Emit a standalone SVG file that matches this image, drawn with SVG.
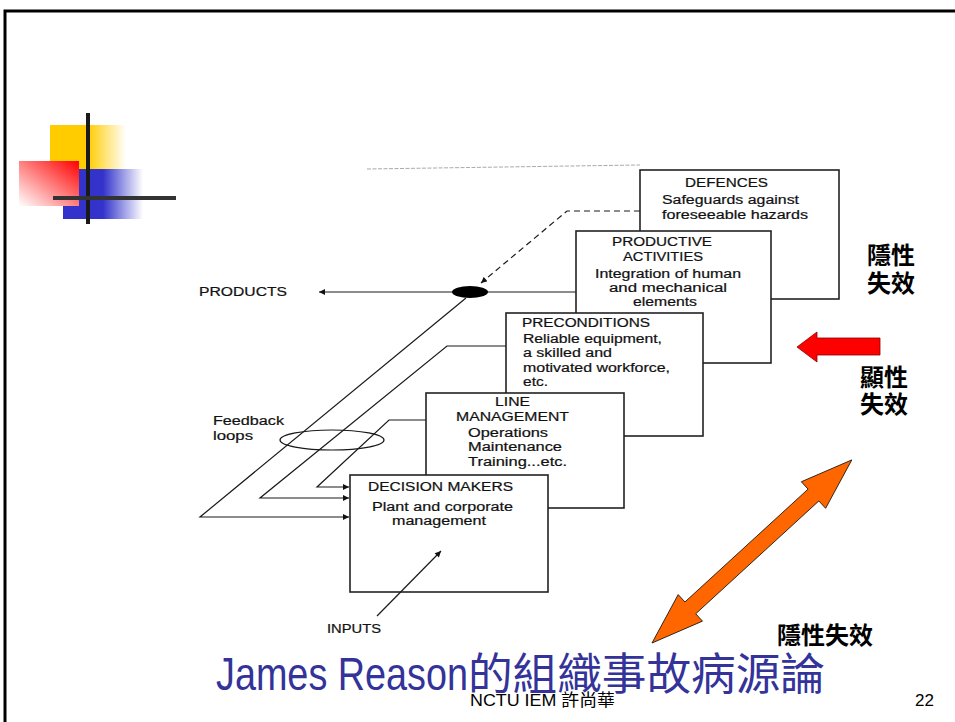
<svg xmlns="http://www.w3.org/2000/svg" width="955" height="722" viewBox="0 0 955 722">
  <defs>
    <linearGradient id="gYellow" x1="0" y1="0" x2="1" y2="0">
      <stop offset="0.5" stop-color="#FFCC00"/>
      <stop offset="1" stop-color="#FFCC00" stop-opacity="0"/>
    </linearGradient>
    <linearGradient id="gBlue" x1="0" y1="0" x2="1" y2="0">
      <stop offset="0.5" stop-color="#3333CC"/>
      <stop offset="1" stop-color="#3333CC" stop-opacity="0"/>
    </linearGradient>
    <linearGradient id="gRed" x1="1" y1="0" x2="0" y2="1">
      <stop offset="0" stop-color="#FF0000"/>
      <stop offset="1" stop-color="#FFFFFF"/>
    </linearGradient>
    <marker id="ah" viewBox="0 0 10 10" refX="10" refY="5" markerWidth="7" markerHeight="6" markerUnits="userSpaceOnUse" orient="auto">
      <path d="M0,0 L10,5 L0,10 Z" fill="#111"/>
    </marker>
    <style>
      .box { fill: #fff; stroke: #222; stroke-width: 1.6; }
      .ln { fill: none; stroke: #1a1a1a; stroke-width: 1.2; }
      .lbl { font-family: "Liberation Sans", Arial, sans-serif; font-size: 12px; fill: #111; stroke: #111; stroke-width: 0.2; }
      .cjk { font-family: "Noto Sans CJK TC", "Noto Sans CJK SC", sans-serif; font-size: 24px; font-weight: bold; fill: #000; }
    </style>
  </defs>

  <rect width="955" height="722" fill="#fff"/>
  <!-- slide frame -->
  <path d="M5,722 L5,11 L955,11" fill="none" stroke="#000" stroke-width="3"/>

  <!-- corner decoration -->
  <g id="decor">
    <rect x="50" y="125" width="76" height="44" fill="url(#gYellow)"/>
    <rect x="63" y="169" width="80" height="50" fill="url(#gBlue)"/>
    <rect x="19" y="161" width="60" height="45" fill="url(#gRed)"/>
    <rect x="86" y="113" width="4" height="111" fill="#1a1a1a"/>
    <rect x="53" y="196" width="123" height="4" fill="#333"/>
  </g>

  <!-- faint ruled line -->
  <path d="M367,169 L640,165" stroke="#aaa" stroke-width="1" stroke-dasharray="4,1.5" fill="none"/>

  <!-- connectors -->
  <g id="connectors">
    <path class="ln" d="M576,292 L319,292" marker-end="url(#ah)"/>
    <path class="ln" d="M640,211 L567,211 L481,283" stroke-dasharray="6,4" marker-end="url(#ah)"/>
    <path class="ln" d="M466,298 L200,517 L349,517" marker-end="url(#ah)"/>
    <path class="ln" d="M506,346 L447,346 L260,498 L349,498" marker-end="url(#ah)"/>
    <path class="ln" d="M426,420 L389,420 L317,487 L349,487" marker-end="url(#ah)"/>
    <ellipse cx="470" cy="292" rx="18" ry="6" fill="#000"/>
    <ellipse cx="332" cy="440" rx="52" ry="10" class="ln"/>
  </g>

  <!-- stacked layers, back to front -->
  <g id="defences">
    <rect class="box" x="640" y="170" width="199" height="129"/>
    <text class="lbl" x="685" y="187" textLength="83" lengthAdjust="spacingAndGlyphs">DEFENCES</text>
    <text class="lbl" x="662" y="204" textLength="137" lengthAdjust="spacingAndGlyphs">Safeguards against</text>
    <text class="lbl" x="662" y="219" textLength="146" lengthAdjust="spacingAndGlyphs">foreseeable hazards</text>
  </g>
  <g id="productive-activities">
    <rect class="box" x="576" y="231" width="195" height="132"/>
    <text class="lbl" x="612" y="246" textLength="100" lengthAdjust="spacingAndGlyphs">PRODUCTIVE</text>
    <text class="lbl" x="623" y="261" textLength="80" lengthAdjust="spacingAndGlyphs">ACTIVITIES</text>
    <text class="lbl" x="595" y="278" textLength="146" lengthAdjust="spacingAndGlyphs">Integration of human</text>
    <text class="lbl" x="609" y="292" textLength="118" lengthAdjust="spacingAndGlyphs">and mechanical</text>
    <text class="lbl" x="633" y="306" textLength="64" lengthAdjust="spacingAndGlyphs">elements</text>
  </g>
  <g id="preconditions">
    <rect class="box" x="506" y="313" width="197" height="123"/>
    <text class="lbl" x="522" y="327" textLength="128" lengthAdjust="spacingAndGlyphs">PRECONDITIONS</text>
    <text class="lbl" x="523" y="343" textLength="139" lengthAdjust="spacingAndGlyphs">Reliable equipment,</text>
    <text class="lbl" x="523" y="357" textLength="89" lengthAdjust="spacingAndGlyphs">a skilled and</text>
    <text class="lbl" x="523" y="372" textLength="147" lengthAdjust="spacingAndGlyphs">motivated workforce,</text>
    <text class="lbl" x="523" y="386" textLength="25" lengthAdjust="spacingAndGlyphs">etc.</text>
  </g>
  <g id="line-management">
    <rect class="box" x="426" y="393" width="198" height="115"/>
    <text class="lbl" x="495" y="406" textLength="35" lengthAdjust="spacingAndGlyphs">LINE</text>
    <text class="lbl" x="456" y="421" textLength="113" lengthAdjust="spacingAndGlyphs">MANAGEMENT</text>
    <text class="lbl" x="468" y="437" textLength="80" lengthAdjust="spacingAndGlyphs">Operations</text>
    <text class="lbl" x="468" y="451" textLength="94" lengthAdjust="spacingAndGlyphs">Maintenance</text>
    <text class="lbl" x="468" y="466" textLength="99" lengthAdjust="spacingAndGlyphs">Training...etc.</text>
  </g>
  <g id="decision-makers">
    <rect class="box" x="350" y="475" width="198" height="117"/>
    <text class="lbl" x="368" y="491" textLength="145" lengthAdjust="spacingAndGlyphs">DECISION MAKERS</text>
    <text class="lbl" x="372" y="511" textLength="141" lengthAdjust="spacingAndGlyphs">Plant and corporate</text>
    <text class="lbl" x="392" y="525" textLength="94" lengthAdjust="spacingAndGlyphs">management</text>
  </g>

  <!-- input arrow runs into the front layer -->
  <g id="input-connector">
    <path class="ln" d="M377,616 L441,551" marker-end="url(#ah)"/>
  </g>

  <!-- free labels -->
  <g id="products">
    <text class="lbl" x="199" y="296" textLength="88" lengthAdjust="spacingAndGlyphs">PRODUCTS</text>
  </g>
  <g id="feedback">
    <text class="lbl" x="213" y="425" textLength="71" lengthAdjust="spacingAndGlyphs">Feedback</text>
    <text class="lbl" x="213" y="440" textLength="40" lengthAdjust="spacingAndGlyphs">loops</text>
  </g>
  <g id="inputs">
    <text class="lbl" x="327" y="633" textLength="54" lengthAdjust="spacingAndGlyphs">INPUTS</text>
  </g>

  <!-- failure annotations -->
  <g id="latent-top">
    <text class="cjk" x="867" y="264">隱性</text>
    <text class="cjk" x="867" y="292">失效</text>
  </g>
  <g id="active-failure">
    <polygon points="797,347 817,332 817,338 880,338 880,355 817,355 817,362" fill="#FF0000" stroke="#800" stroke-width="0.8"/>
    <text class="cjk" x="860" y="386">顯性</text>
    <text class="cjk" x="860" y="413">失效</text>
  </g>
  <g id="latent-bottom">
    <polygon transform="translate(652,643) rotate(-42.5)" points="0,0 52,-18 52,-8 219,-8 219,-18 271,0 219,18 219,8 52,8 52,18" fill="#FF6600" stroke="#111" stroke-width="0.8"/>
    <text class="cjk" x="777" y="644">隱性失效</text>
  </g>

  <!-- title and footer -->
  <g id="title">
    <text y="690" fill="#333399" font-size="46"><tspan x="216" font-family="Liberation Sans, Arial, sans-serif" textLength="252" lengthAdjust="spacingAndGlyphs">James Reason</tspan><tspan font-family="Noto Sans CJK TC, sans-serif" font-size="44" textLength="357" lengthAdjust="spacingAndGlyphs">的組織事故病源論</tspan></text>
  </g>
  <g id="footer">
    <text x="470" y="706" font-family="Liberation Sans, Arial, Noto Sans CJK TC, sans-serif" font-size="17" fill="#000" textLength="145" lengthAdjust="spacingAndGlyphs">NCTU IEM 許尚華</text>
    <text x="915" y="706" font-family="Liberation Sans, Arial, sans-serif" font-size="17" fill="#000">22</text>
  </g>
</svg>
